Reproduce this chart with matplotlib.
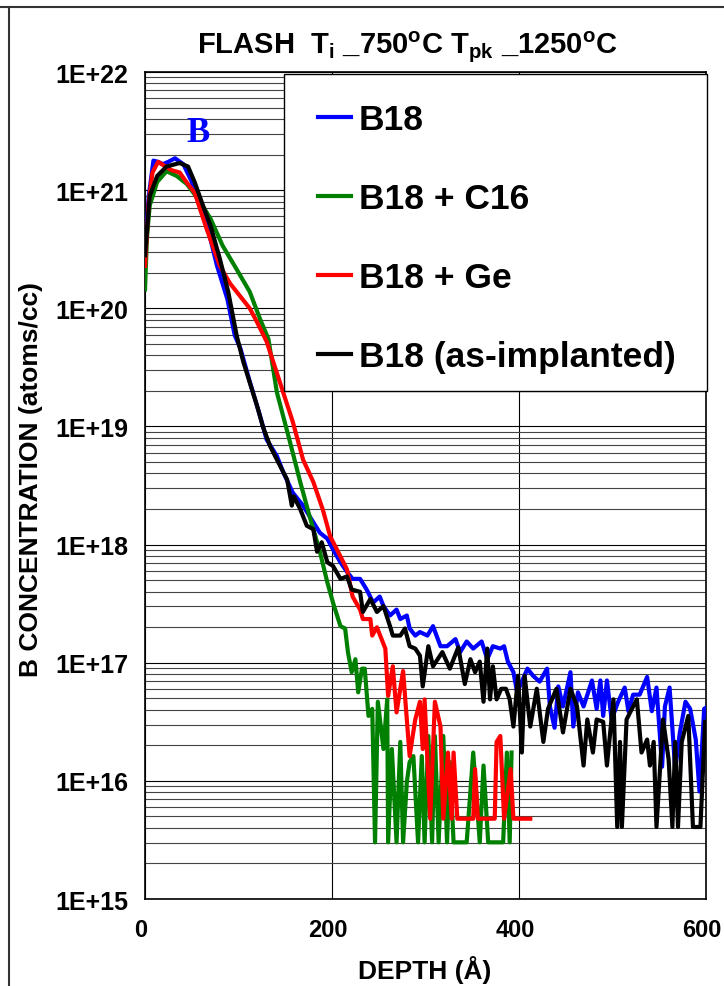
import numpy as np
import matplotlib
matplotlib.use('Agg')
import matplotlib.pyplot as plt
import matplotlib.transforms as mtransforms
from matplotlib.ticker import LogLocator, NullFormatter
from matplotlib.lines import Line2D
from matplotlib.patches import Rectangle

plt.rcParams['font.family'] = ['Liberation Sans', 'DejaVu Sans']
plt.rcParams['font.weight'] = 'bold'
plt.rcParams['mathtext.fontset'] = 'custom'
plt.rcParams['mathtext.rm'] = 'Liberation Sans:bold'
plt.rcParams['mathtext.bf'] = 'Liberation Sans:bold'
plt.rcParams['mathtext.default'] = 'bf'

# SIMS profiles: depth (A) and log10 of B concentration (atoms/cc)
b18_depth = [0, 4, 9, 14, 19, 25, 32, 41, 50, 59,
             68, 77, 88, 96, 102, 112, 123, 130, 141, 148,
             158, 169, 176, 187, 195, 201, 209, 216, 222, 230,
             237, 244, 251, 255, 262, 269, 273, 280, 283, 289,
             294, 302, 308, 316, 323, 332, 337, 344, 351, 360,
             366, 372, 380, 384, 388, 394, 398, 409, 415, 422,
             430, 433, 438, 442, 447, 455, 458, 463, 469, 478,
             483, 487, 490, 494, 499, 506, 513, 517, 522, 529,
             537, 542, 547, 553, 556, 561, 567, 572, 578, 583,
             589, 593, 598, 600]
b18_log = [20.48, 20.95, 21.25, 21.24, 21.22, 21.24, 21.27, 21.22, 21.07, 20.87,
           20.65, 20.36, 20.08, 19.77, 19.66, 19.38, 19.09, 18.89, 18.75, 18.61,
           18.44, 18.33, 18.24, 18.10, 18.05, 17.96, 17.85, 17.77, 17.71, 17.71,
           17.62, 17.51, 17.56, 17.48, 17.40, 17.45, 17.37, 17.40, 17.29, 17.23,
           17.26, 17.23, 17.31, 17.14, 17.14, 17.20, 17.09, 17.18, 17.12, 17.18,
           17.03, 17.14, 17.12, 17.14, 17.01, 16.92, 16.75, 16.95, 16.89, 16.84,
           16.95, 16.63, 16.45, 16.80, 16.63, 16.92, 16.46, 16.75, 16.63, 16.85,
           16.61, 16.85, 16.55, 16.85, 16.52, 16.67, 16.79, 16.59, 16.73, 16.73,
           16.88, 16.59, 16.79, 16.12, 16.63, 16.79, 16.10, 16.41, 16.67, 16.61,
           16.35, 15.91, 16.61, 16.62]

c16_depth = [0, 2, 5, 13, 23, 34, 45, 59, 70, 83,
             98, 112, 123, 132, 141, 155, 166, 176, 187, 195,
             201, 209, 214, 217, 221, 225, 228, 232, 235, 239,
             243, 246, 249, 255, 259, 260, 264, 269, 273, 276,
             280, 283, 287, 292, 296, 299, 303, 307, 310, 314,
             319, 323, 326, 330, 344, 351, 358, 362, 367, 383,
             387, 390, 392]
c16_log = [20.16, 20.59, 20.87, 21.07, 21.16, 21.12, 21.05, 20.90, 20.76, 20.53,
           20.33, 20.14, 19.91, 19.74, 19.29, 18.87, 18.53, 18.24, 17.94, 17.68,
           17.51, 17.31, 17.29, 17.09, 16.92, 17.03, 16.75, 16.95, 16.95, 16.55,
           16.61, 15.48, 16.67, 16.27, 16.69, 15.48, 16.27, 15.48, 16.33, 15.48,
           15.99, 16.16, 16.21, 15.48, 16.21, 15.48, 16.38, 15.48, 16.38, 15.48,
           16.38, 15.48, 16.16, 15.48, 15.48, 16.24, 15.48, 16.13, 15.48, 15.48,
           16.24, 15.48, 16.24]

ge_depth = [0, 4, 8, 14, 22, 28, 37, 46, 53, 66,
            80, 91, 112, 120, 130, 144, 158, 169, 180, 190,
            198, 209, 216, 222, 230, 233, 241, 243, 248, 257,
            260, 265, 269, 276, 283, 289, 294, 297, 299, 305,
            310, 316, 319, 324, 328, 330, 334, 351, 353, 356,
            374, 376, 380, 384, 391, 394, 412]
ge_log = [20.36, 20.90, 21.15, 21.24, 21.20, 21.17, 21.15, 21.05, 20.98, 20.67,
          20.36, 20.21, 20.00, 19.88, 19.72, 19.38, 19.04, 18.72, 18.53, 18.30,
          18.07, 17.90, 17.79, 17.56, 17.45, 17.37, 17.37, 17.23, 17.30, 17.12,
          16.72, 16.97, 16.58, 16.93, 16.21, 16.52, 16.67, 16.27, 16.69, 15.68,
          16.67, 16.46, 15.68, 16.24, 15.68, 16.24, 15.68, 15.68, 16.10, 15.68,
          15.68, 16.33, 16.38, 15.68, 16.10, 15.68, 15.68]

asimp_depth = [0, 5, 13, 23, 37, 46, 53, 62, 70, 80,
               89, 98, 105, 120, 126, 134, 141, 152, 157, 159,
               166, 173, 180, 184, 189, 195, 201, 209, 216, 221,
               230, 233, 241, 248, 255, 262, 265, 273, 278, 283,
               289, 294, 297, 303, 308, 318, 326, 335, 342, 348,
               353, 358, 362, 366, 369, 372, 376, 381, 386, 390,
               394, 399, 403, 406, 412, 419, 426, 431, 440, 447,
               455, 462, 469, 473, 479, 483, 490, 494, 501, 505,
               508, 510, 515, 522, 526, 531, 537, 540, 544, 547,
               554, 560, 564, 567, 570, 574, 581, 586, 594, 599]
asimp_log = [20.45, 20.95, 21.12, 21.20, 21.23, 21.20, 21.07, 20.87, 20.70, 20.42,
             20.14, 19.77, 19.55, 19.17, 19.00, 18.83, 18.72, 18.55, 18.33, 18.41,
             18.30, 18.16, 18.13, 17.94, 18.02, 17.85, 17.82, 17.71, 17.73, 17.62,
             17.60, 17.43, 17.54, 17.43, 17.48, 17.31, 17.23, 17.23, 17.29, 17.14,
             17.12, 17.06, 16.80, 17.14, 16.97, 17.09, 16.95, 17.13, 16.82, 17.03,
             16.92, 17.01, 16.67, 17.12, 16.69, 16.97, 16.69, 16.78, 16.78, 16.69,
             16.46, 16.89, 16.24, 16.89, 16.46, 16.78, 16.33, 16.61, 16.78, 16.41,
             16.78, 16.63, 16.13, 16.52, 16.24, 16.52, 16.50, 16.13, 16.69, 15.61,
             16.33, 15.61, 16.52, 16.63, 16.69, 16.24, 16.35, 16.13, 16.33, 15.61,
             16.52, 16.18, 15.61, 16.33, 15.61, 16.33, 16.55, 15.61, 15.61, 16.50]

labels = ['B18', 'B18 + C16', 'B18 + Ge', 'B18 (as-implanted)']
colors = ['#0000FF', '#008000', '#FF0000', '#000000']
yticks = [1e15, 1e16, 1e17, 1e18, 1e19, 1e20, 1e21, 1e22]
ytick_labels = ['1E+15', '1E+16', '1E+17', '1E+18', '1E+19', '1E+20', '1E+21', '1E+22']
xticks = [0, 200, 400, 600]

fig = plt.figure(figsize=(7.24, 9.87), dpi=100)
ax = fig.add_axes([0.2003, 0.0881, 0.7749, 0.8379])

profiles = [(b18_depth, b18_log), (c16_depth, c16_log),
            (ge_depth, ge_log), (asimp_depth, asimp_log)]
for (d, lg), lab, c in zip(profiles, labels, colors):
    ax.plot(d, 10 ** np.array(lg), color=c, lw=3, label=lab,
            solid_joinstyle='round', zorder=3)

ax.set_yscale('log')
ax.set_ylim(1e15, 1e22)
ax.set_xlim(0, 600)
ax.set_yticks(yticks)
ax.set_yticklabels(ytick_labels)
ax.yaxis.set_minor_locator(LogLocator(base=10, subs=range(2, 10), numticks=100))
ax.yaxis.set_minor_formatter(NullFormatter())
ax.set_xticks(xticks)
ax.tick_params(axis='both', which='both', length=0, labelsize=18)
ax.tick_params(axis='x', labelsize=17, pad=14)
ax.tick_params(axis='y', pad=12)
# x labels sit a few pixels left of their gridlines in the original
shift = mtransforms.ScaledTranslation(-4 / 100, 0, fig.dpi_scale_trans)
for lbl in ax.get_xticklabels():
    lbl.set_transform(lbl.get_transform() + shift)

ax.grid(True, which='major', axis='both', color='black', lw=0.8, zorder=1)
ax.grid(True, which='minor', axis='y', color='#444444', lw=0.8, zorder=1)
ax.set_axisbelow(True)
for s in ax.spines.values():
    s.set_color('black')
    s.set_linewidth(1.2)

ax.set_xlabel('DEPTH (Å)', fontsize=19, fontweight='bold')
ax.xaxis.set_label_coords(0.499, -0.068)
ax.set_ylabel('B CONCENTRATION (atoms/cc)', fontsize=19, fontweight='bold')
ax.yaxis.set_label_coords(-0.182, 0.508)

ax.set_title(r'FLASH  T$_i$ _750$^o$C T$_{pk}$ _1250$^o$C', fontsize=21,
             fontweight='bold', x=0.467, y=1.031, pad=0, va='center')

ax.text(57, 3.1e21, 'B', color='#0000FF', fontsize=25, fontweight='bold',
        family='Liberation Serif', ha='center', va='center')

# legend box drawn as its own patch so its size matches the original
box = Rectangle((284 / 724, 1 - 392 / 987), 423 / 724, 317 / 987,
                transform=fig.transFigure, facecolor='white', edgecolor='black',
                lw=1.0, zorder=4, clip_on=False)
ax.add_patch(box)

leg = ax.legend(loc='upper left',
                bbox_to_anchor=(289 / 724, 1 - 392 / 987, 418 / 724, 317 / 987),
                bbox_transform=fig.transFigure, mode='expand', borderaxespad=0,
                prop={'size': 25.5, 'weight': 'bold'}, handlelength=0.93,
                handletextpad=0.22, labelspacing=1.30, borderpad=0.82,
                frameon=False)
leg.set_zorder(5)

# outer frame of the original figure
fig.add_artist(Line2D([0, 1], [1 - 8 / 987] * 2, color='#333333', lw=1.5,
                      transform=fig.transFigure))
fig.add_artist(Line2D([9 / 724] * 2, [0, 1 - 8 / 987], color='#333333', lw=1.5,
                      transform=fig.transFigure))

fig.savefig('out.png', dpi=100)
